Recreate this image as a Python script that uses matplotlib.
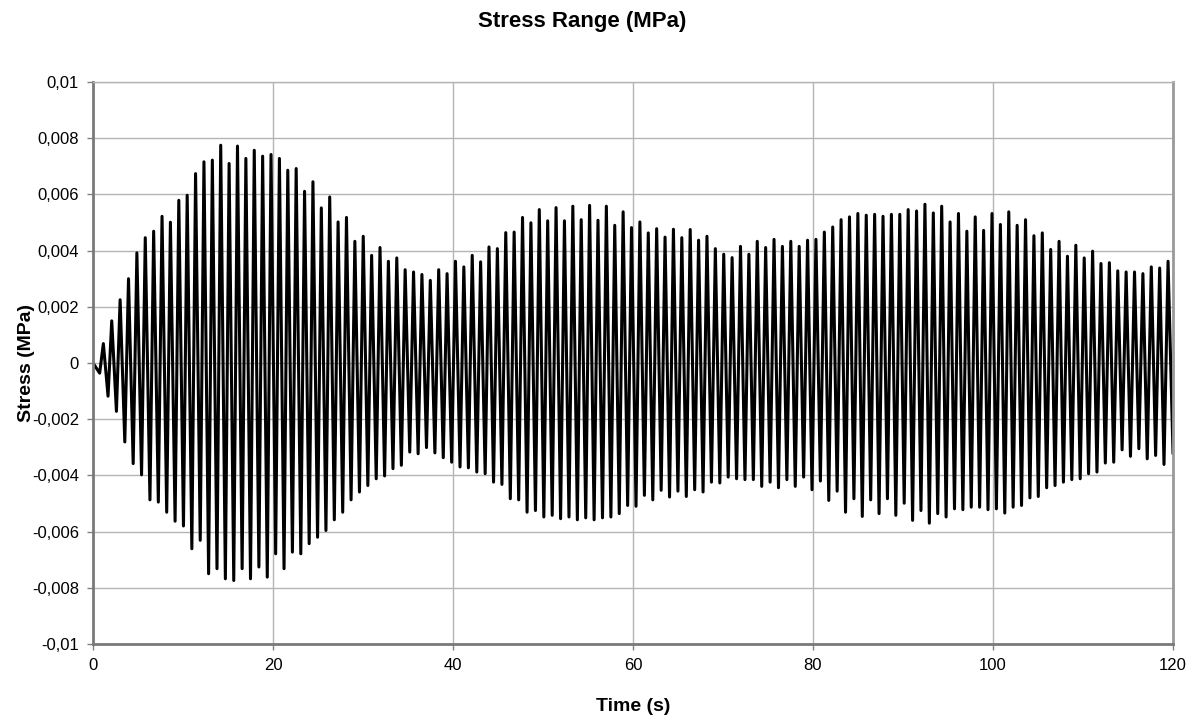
import numpy as np
import matplotlib
matplotlib.use('Agg')
import matplotlib.pyplot as plt

# peak values of each cycle (units of 0.001 MPa)
max_values = [0.69, 1.50, 2.25, 3.00, 3.92, 4.46, 4.69, 5.22, 5.01, 5.79, 5.97, 6.74,
              7.16, 7.22, 7.75, 7.10, 7.72, 7.28, 7.57, 7.36, 7.42, 7.28, 6.86, 6.92,
              6.11, 6.45, 5.52, 5.91, 5.02, 5.18, 4.33, 4.51, 3.83, 4.11, 3.62, 3.74, 3.32,
              3.24, 3.15, 2.94, 3.32, 3.18, 3.62, 3.42, 3.83, 3.60, 4.13, 4.07, 4.64,
              4.66, 5.18, 4.99, 5.46, 5.06, 5.53, 5.06, 5.58, 5.10, 5.61, 5.08, 5.58, 4.90,
              5.38, 4.82, 5.02, 4.63, 4.78, 4.48, 4.76, 4.46, 4.75, 4.37, 4.51, 4.07,
              3.87, 3.75, 4.15, 3.87, 4.33, 4.11, 4.40, 4.15, 4.33, 4.15, 4.37, 4.40, 4.66,
              4.84, 5.10, 5.20, 5.32, 5.26, 5.29, 5.22, 5.29, 5.29, 5.46, 5.41, 5.65,
              5.34, 5.58, 5.02, 5.32, 4.69, 5.20, 4.72, 5.32, 4.93, 5.38, 4.90, 5.10, 4.53,
              4.63, 4.04, 4.33, 3.80, 4.19, 3.74, 3.98, 3.54, 3.57, 3.28, 3.24, 3.24, 3.18,
              3.42, 3.38, 3.62]

min_values = [-0.36, -1.18, -1.72, -2.81, -3.58, -3.98, -4.87, -4.95, -5.31, -5.63, -5.80, -6.61,
              -6.31, -7.50, -7.32, -7.68, -7.74, -7.32, -7.68, -7.26, -7.62, -6.79, -7.32, -6.73,
              -6.79, -6.43, -6.20, -5.96, -5.58, -5.31, -4.87, -4.59, -4.36, -4.12, -4.02, -3.76, -3.64,
              -3.17, -3.23, -3.01, -3.20, -3.37, -3.53, -3.70, -3.73, -3.88, -3.94, -4.24, -4.32, -4.83,
              -4.87, -5.31, -5.25, -5.48, -5.42, -5.54, -5.48, -5.58, -5.51, -5.58, -5.51, -5.48,
              -5.36, -5.07, -5.10, -4.71, -4.87, -4.53, -4.77, -4.56, -4.75, -4.51, -4.59, -4.24, -4.27,
              -4.06, -4.12, -4.15, -4.15, -4.39, -4.24, -4.44, -4.15, -4.39, -4.06, -4.51, -4.20,
              -4.89, -4.56, -5.31, -4.83, -5.46, -4.87, -5.36, -4.83, -5.42, -4.99, -5.60, -5.25, -5.70,
              -5.36, -5.48, -5.19, -5.22, -5.13, -5.13, -5.22, -5.19, -5.34, -5.13, -5.07, -4.80,
              -4.75, -4.44, -4.36, -4.24, -4.15, -4.12, -3.94, -3.88, -3.56, -3.53, -3.09, -3.32,
              -3.05, -3.41, -3.29, -3.61]

# first / last extremum times (s)
first_min_t, last_min_t = 0.74, 119.0
first_max_t, last_max_t = 1.15, 119.45
start_point = (0.0, 0.0)
end_point = (120.0, -3.2)

xticks = [0, 20, 40, 60, 80, 100, 120]
yticks = [-0.01, -0.008, -0.006, -0.004, -0.002, 0, 0.002, 0.004, 0.006, 0.008, 0.01]
ytick_labels = ['-0,01', '-0,008', '-0,006', '-0,004', '-0,002', '0',
                '0,002', '0,004', '0,006', '0,008', '0,01']

min_t = np.linspace(first_min_t, last_min_t, len(min_values))
max_t = np.linspace(first_max_t, last_max_t, len(max_values))

t = [start_point[0]]
s = [start_point[1]]
for i in range(len(max_values)):
    t.append(min_t[i])
    s.append(min_values[i])
    t.append(max_t[i])
    s.append(max_values[i])
t.append(end_point[0])
s.append(end_point[1])
t = np.array(t)
s = np.array(s) / 1000.0

plt.rcParams['font.family'] = ['Liberation Sans', 'DejaVu Sans']

fig = plt.figure(figsize=(11.97, 7.2), dpi=100)
ax = fig.add_axes([93 / 1197, 1 - 644 / 720, 1080 / 1197, 562 / 720])

ax.plot(t, s, color='black', linewidth=2.2, solid_joinstyle='round')

ax.set_xlim(0, 120)
ax.set_ylim(-0.01, 0.01)
ax.set_xticks(xticks)
ax.set_yticks(yticks)
ax.set_yticklabels(ytick_labels)
ax.grid(True, color='#b4b4b4', linewidth=1.0)
ax.set_axisbelow(True)
ax.tick_params(direction='out', length=4, width=1, color='#808080', labelsize=12, pad=6)

for side in ['top', 'right']:
    ax.spines[side].set_color('#b4b4b4')
    ax.spines[side].set_linewidth(1.0)
for side in ['left', 'bottom']:
    ax.spines[side].set_color('#7a7a7a')
    ax.spines[side].set_linewidth(2.0)
ax.spines['right'].set_color('#9a9a9a')
ax.spines['right'].set_linewidth(2.0)

fig.text(582 / 1197, 1 - 22 / 720, 'Stress Range (MPa)', ha='center', va='center',
         fontsize=16, fontweight='bold')
ax.set_xlabel('Time (s)', fontsize=14, fontweight='bold', labelpad=18)
ax.set_ylabel('Stress (MPa)', fontsize=14, fontweight='bold')
ax.yaxis.set_label_coords(-58 / 1080, 0.5)

fig.savefig('out.png', dpi=100)
